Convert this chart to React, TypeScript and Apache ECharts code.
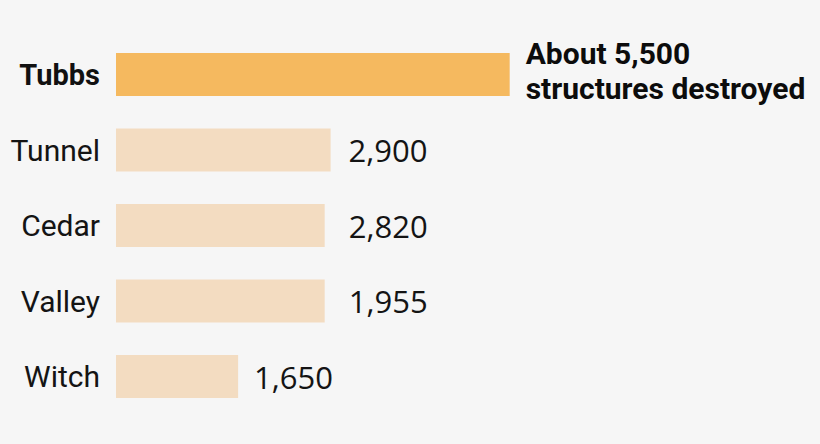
import React, { useEffect, useRef } from "react";
import * as echarts from "echarts";

const categories = ["Tubbs", "Tunnel", "Cedar", "Valley", "Witch"];
// bar lengths as drawn in the picture
const barValues = [5320, 2900, 2820, 2820, 1650];
const valueLabels = ["About 5,500\nstructures destroyed", "2,900", "2,820", "1,955", "1,650"];

const FONT = "Roboto, 'Noto Sans', sans-serif";
const NUMFONT = "'Open Sans', Roboto, sans-serif";

export default function App() {
  const ref = useRef<HTMLDivElement>(null);
  useEffect(() => {
    document.body.style.margin = "0";
    const chart = echarts.init(ref.current!, null, { renderer: "svg" });
    const labelDistances = [16, 18, 24, 24, 16];
    chart.setOption({
      animation: false,
      backgroundColor: "#f6f6f6",
      grid: { left: 116, right: 38, top: 36.75, bottom: 29.75 },
      xAxis: {
        type: "value",
        min: 0,
        max: 9000,
        show: false,
      },
      yAxis: {
        type: "category",
        data: categories,
        inverse: true,
        axisLine: { show: false },
        axisTick: { show: false },
        splitLine: { show: false },
        axisLabel: {
          margin: 16,
          fontFamily: FONT,
          fontSize: 30,
          color: "#141414",
          formatter: (v: string, i: number) => (i === 0 ? `{b|${v}}` : v),
          rich: {
            b: { fontFamily: FONT, fontSize: 29, fontWeight: "bold", color: "#111" },
          },
        },
      },
      series: [
        {
          type: "bar",
          barWidth: 43,
          data: barValues.map((v, i) => ({
            value: v,
            itemStyle: { color: i === 0 ? "#f5b95f" : "#f3dcc1" },
            label: {
              show: true,
              position: "right",
              distance: labelDistances[i],
              offset: i === 0 ? [0, -4] : [0, 0],
              formatter: valueLabels[i],
              fontFamily: i === 0 ? FONT : NUMFONT,
              fontSize: i === 0 ? 30 : 31,
              fontWeight: i === 0 ? "bold" : "normal",
              lineHeight: i === 0 ? 35 : 36,
              color: i === 0 ? "#0c0c0c" : "#141414",
              align: "left",
            },
          })),
        },
      ],
    });
    return () => chart.dispose();
  }, []);
  return <div ref={ref} style={{ width: 820, height: 444 }} />;
}
